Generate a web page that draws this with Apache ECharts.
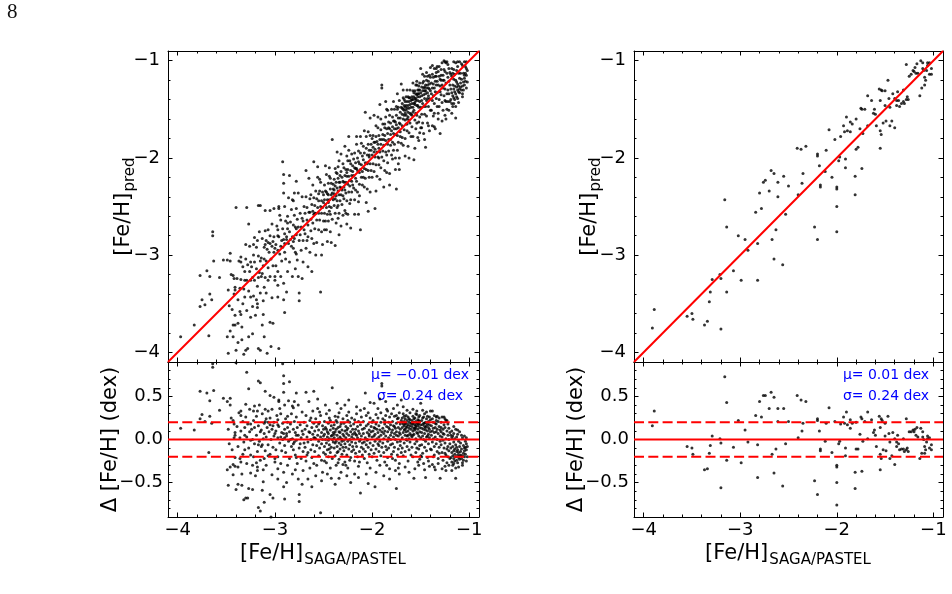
<!DOCTYPE html>
<html>
<head>
<meta charset="utf-8">
<script src="https://cdn.jsdelivr.net/npm/echarts@6/dist/echarts.min.js"></script>
<style>
html,body{margin:0;padding:0;background:#fff;}
#c{width:952px;height:594px;}
</style>
</head>
<body>
<div id="c"></div>
<script>
// ---------------- data ----------------
const xRange = [-4.1, -0.9];
const predRange = [-4.1, -0.9];
const deltaRange = [-0.9, 0.9];
const xTicks = [-4, -3, -2, -1];
const predTicks = [-4, -3, -2, -1];
const deltaTicks = [-0.5, 0, 0.5];
const bandLevels = [-0.2, 0.2];
const statsLeft = ['μ= −0.01 dex', 'σ= 0.24 dex'];
const statsRight = ['μ= 0.01 dex', 'σ= 0.24 dex'];
const xTitleMain = '[Fe/H]', xTitleSub = 'SAGA/PASTEL';
const yTitleMain = '[Fe/H]', yTitleSub = 'pred';
const dTitle = 'Δ [Fe/H] (dex)';
const pageNumber = '8';

// left panel: [Fe/H]_SAGA/PASTEL, Δ = pred − true
const leftSparse = [
[-2.80,0.44],[-2.81,0.37],[-3.40,0.89],[-3.29,0.78],[-3.17,0.68],[-3.15,0.66],[-3.10,0.56],[-3.05,0.51],[-2.96,0.44],[-2.90,0.40],
[-2.87,0.27],[-3.27,0.59],[-3.03,0.35],[-2.94,0.30],[-2.87,0.20],[-2.78,0.05],[-3.64,0.88],[-3.64,0.84],[-3.10,0.35],[-2.97,0.23],
[-2.97,0.17],[-2.91,0.07],[-2.88,0.07],[-2.84,0.00],[-2.81,-0.05],[-3.21,0.39],[-3.18,0.33],[-3.09,0.24],[-3.05,0.17],[-3.02,0.16],
[-3.46,0.48],[-3.30,0.41],[-3.22,0.33],[-3.10,0.21],[-3.07,0.20],[-3.00,0.07],[-2.94,0.03],[-2.90,0.02],[-2.78,-0.21],[-3.63,0.57],
[-3.53,0.48],[-3.46,0.40],[-3.35,0.33],[-3.35,0.28],[-3.25,0.18],[-3.15,0.09],[-2.79,-0.35],[-3.77,0.56],[-3.70,0.54],[-3.67,0.45],
[-3.57,0.34],[-3.43,0.22],[-3.31,0.05],[-3.25,-0.01],[-3.17,-0.06],[-3.13,-0.06],[-3.07,-0.19],[-3.00,-0.22],[-2.97,-0.34],[-2.91,-0.38],
[-3.11,-0.22],[-3.41,0.08],[-3.41,0.05],[-2.88,-0.50],[-2.97,-0.46],[-3.75,0.29],[-3.77,0.24],[-3.72,0.21],[-3.67,0.27],[-3.65,0.19],
[-3.22,-0.20],[-3.19,-0.27],[-3.18,-0.32],[-3.18,-0.36],[-3.33,-0.17],[-3.35,-0.26],[-3.25,-0.39],[-3.12,-0.49],[-2.90,-0.69],[-3.83,0.11],
[-3.97,0.13],[-3.68,-0.15],[-3.43,-0.29],[-3.41,-0.31],[-3.38,-0.32],[-3.46,-0.32],[-3.13,-0.59],[-3.05,-0.64],[-3.02,-0.68],[-3.27,-0.57],
[-3.34,-0.53],[-3.38,-0.52],[-3.23,-0.58],[-3.11,-0.73],[-3.43,-0.41],[-3.48,-0.53],[-3.40,-0.58],[-3.30,-0.68],[-3.28,-0.68],[-3.32,-0.70],
[-3.17,-0.79],[-3.15,-0.83],[-3.08,-0.93],[-3.04,-0.90],[-2.96,-1.00],[-2.92,0.88],[-2.91,0.74],[-2.85,0.67],[-2.91,0.65],[-2.91,0.55],
[-2.82,0.39],[-3.01,0.49],[-2.96,0.46],[-3.49,0.44],[-2.60,0.56]
];
const leftBandLow = [
[-3.48,0.12],[-3.47,-0.05],[-3.45,0.25],[-3.44,-0.12],[-3.42,0.02],[-3.42,0.18],[-3.41,-0.21],[-3.49,-0.35],
[-3.39,0.15],[-3.38,-0.08],[-3.37,0.31],[-3.36,0.02],[-3.36,-0.22],[-3.35,0.10],[-3.34,-0.40],[-3.33,0.21],[-3.32,-0.03],[-3.31,0.14],[-3.31,-0.12],[-3.30,0.26],
[-3.29,0.03],[-3.29,-0.28],[-3.28,0.18],[-3.27,-0.10],[-3.26,0.09],[-3.26,0.35],[-3.25,-0.18],[-3.24,0.12],[-3.23,0.00],[-3.23,-0.30],[-3.22,0.22],[-3.21,-0.05],[-3.21,0.14],[-3.20,-0.42],
[-3.19,0.05],[-3.19,0.27],[-3.18,-0.14],[-3.17,0.16],[-3.16,-0.02],[-3.16,0.40],[-3.15,-0.24],[-3.14,0.11],[-3.14,-0.08],[-3.13,0.30],[-3.12,0.01],[-3.12,-0.35],[-3.11,0.19],[-3.11,0.07],[-3.10,-0.13],
[-3.09,0.03],[-3.09,-0.30],[-3.08,0.14],[-3.07,0.33],[-3.07,-0.06],[-3.06,0.09],[-3.05,-0.17],[-3.05,0.25],[-3.04,0.00],[-3.03,-0.41],[-3.03,0.12],[-3.02,-0.09],[-3.01,0.20],[-3.01,0.04],[-3.00,-0.26],
[-2.99,0.10],[-2.99,-0.12],[-2.98,0.28],[-2.97,0.02],[-2.97,-0.20],[-2.96,0.15],[-2.95,-0.04],[-2.95,0.36],[-2.94,-0.28],[-2.93,0.08],[-2.93,-0.13],[-2.92,0.19],[-2.92,0.00],[-2.91,-0.55],[-2.90,0.12],[-2.90,-0.07],
[-2.89,0.24],[-2.89,-0.15],[-2.88,0.04],[-2.87,-0.30],[-2.87,0.14],[-2.86,0.45],[-2.86,-0.02],[-2.85,0.09],[-2.85,-0.22],[-2.84,0.18],[-2.83,-0.08],[-2.83,0.30],[-2.82,0.01],[-2.82,-0.40],[-2.81,0.12],[-2.81,-0.12],[-2.80,0.21],[-2.80,-0.03],
[-2.79,0.08],[-2.79,-0.18],[-2.78,0.26],[-2.78,-0.01],[-2.77,0.14],[-2.77,-0.28],[-2.76,0.05],[-2.76,0.40],[-2.75,-0.10],[-2.75,-0.64],[-2.75,-0.72],[-2.74,0.17],[-2.74,-0.05],[-2.73,0.02],[-2.73,-0.22],[-2.72,0.32],[-2.72,0.10],[-2.71,-0.14],[-2.71,-0.36],[-2.71,0.06],[-2.70,0.20],[-2.70,-0.04],[-2.76,-0.46],[-2.78,0.54],[-2.72,-0.52],
[-2.69,0.12],[-2.69,-0.09],[-2.68,0.28],[-2.68,-0.25],[-2.67,0.03],[-2.67,0.16],[-2.66,-0.15],[-2.66,-0.03],[-2.65,0.44],[-2.65,0.09],[-2.64,-0.33],[-2.64,0.22],[-2.63,0.00],[-2.63,-0.12],[-2.62,0.14],[-2.62,-0.21],[-2.61,0.06],[-2.61,0.33],[-2.61,-0.06],[-2.60,0.19],[-2.60,-0.28],[-2.60,0.02],[-2.68,0.55],[-2.66,-0.46],[-2.63,0.25],[-2.62,-0.55],[-2.64,0.08],[-2.67,-0.18],
[-2.59,0.10],[-2.59,-0.14],[-2.58,0.24],[-2.58,0.01],[-2.57,-0.07],[-2.57,0.15],[-2.57,-0.30],[-2.56,0.05],[-2.56,0.36],[-2.55,-0.19],[-2.55,0.11],[-2.55,-0.02],[-2.54,0.20],[-2.54,-0.10],[-2.53,0.03],[-2.53,-0.85],[-2.53,0.28],[-2.52,-0.24],[-2.52,0.08],[-2.52,-0.05],[-2.51,0.16],[-2.51,-0.38],[-2.51,0.00],[-2.50,0.12],[-2.50,-0.15],[-2.50,0.04],[-2.58,-0.42],[-2.56,0.47],[-2.54,0.32],[-2.52,-0.48],[-2.59,0.02],[-2.55,0.18]
];
const leftBandMid = [
[-2.49,0.06],[-2.49,-0.08],[-2.49,0.21],[-2.48,-0.17],[-2.48,0.00],[-2.48,0.14],[-2.47,0.30],[-2.47,-0.04],[-2.47,-0.27],[-2.46,0.09],[-2.46,-0.12],[-2.46,0.03],[-2.45,0.19],[-2.45,-0.20],[-2.45,0.07],[-2.44,-0.06],[-2.44,0.25],[-2.44,0.01],[-2.43,-0.15],[-2.43,0.11],[-2.43,-0.33],[-2.42,0.04],[-2.42,0.16],[-2.42,-0.09],[-2.41,0.00],[-2.41,0.60],[-2.41,-0.22],[-2.40,0.13],[-2.40,-0.03],[-2.40,0.08],[-2.48,0.40],[-2.46,-0.40],[-2.44,0.34],[-2.42,-0.45],[-2.47,0.12],[-2.45,-0.01],[-2.43,0.22],[-2.41,0.05],[-2.49,-0.25],[-2.44,-0.11],
[-2.39,0.02],[-2.39,0.17],[-2.39,-0.10],[-2.38,0.09],[-2.38,-0.19],[-2.38,0.27],[-2.37,-0.02],[-2.37,0.12],[-2.37,-0.30],[-2.36,0.05],[-2.36,-0.08],[-2.36,0.20],[-2.35,-0.14],[-2.35,0.01],[-2.35,0.14],[-2.34,-0.04],[-2.34,0.31],[-2.34,-0.23],[-2.33,0.08],[-2.33,-0.11],[-2.33,0.03],[-2.32,0.18],[-2.32,-0.06],[-2.32,-0.38],[-2.31,0.11],[-2.31,0.00],[-2.31,-0.17],[-2.30,0.06],[-2.30,0.24],[-2.30,-0.09],[-2.38,-0.52],[-2.36,0.42],[-2.34,-0.45],[-2.32,0.36],[-2.39,0.06],[-2.37,0.22],[-2.35,-0.27],[-2.33,0.15],[-2.31,-0.02],[-2.36,-0.15],[-2.34,0.09],[-2.38,-0.04],[-2.32,0.01],[-2.30,-0.29],[-2.35,0.26],
[-2.29,0.04],[-2.29,-0.13],[-2.29,0.19],[-2.28,-0.05],[-2.28,0.10],[-2.28,-0.26],[-2.27,0.02],[-2.27,0.15],[-2.27,-0.09],[-2.26,0.28],[-2.26,-0.18],[-2.26,0.07],[-2.25,-0.02],[-2.25,0.13],[-2.25,-0.33],[-2.24,0.32],[-2.24,0.05],[-2.24,-0.11],[-2.23,0.20],[-2.23,-0.06],[-2.23,0.00],[-2.22,0.09],[-2.22,-0.21],[-2.22,0.16],[-2.21,-0.03],[-2.21,0.25],[-2.21,-0.14],[-2.20,0.06],[-2.20,-0.08],[-2.20,0.12],[-2.28,0.40],[-2.26,-0.42],[-2.24,0.46],[-2.22,-0.50],[-2.27,-0.30],[-2.25,0.22],[-2.23,-0.24],[-2.21,0.03],[-2.29,-0.01],[-2.26,0.11],
[-2.19,0.01],[-2.19,0.18],[-2.19,-0.12],[-2.18,0.08],[-2.18,-0.25],[-2.18,0.23],[-2.17,-0.04],[-2.17,0.12],[-2.17,-0.16],[-2.16,0.05],[-2.16,0.30],[-2.16,-0.08],[-2.15,0.15],[-2.15,-0.20],[-2.15,0.02],[-2.14,-0.31],[-2.14,0.10],[-2.14,0.21],[-2.13,-0.02],[-2.13,0.07],[-2.13,-0.14],[-2.12,0.17],[-2.12,-0.62],[-2.12,0.00],[-2.11,-0.09],[-2.11,0.26],[-2.11,0.04],[-2.10,-0.18],[-2.10,0.12],[-2.10,-0.04],[-2.18,-0.40],[-2.16,0.38],[-2.14,-0.44],[-2.12,0.34],[-2.17,0.06],[-2.13,-0.26],
[-2.09,0.07],[-2.09,-0.11],[-2.09,0.21],[-2.08,-0.03],[-2.08,0.13],[-2.08,-0.22],[-2.07,0.54],[-2.07,0.02],[-2.07,-0.14],[-2.06,0.16],[-2.06,-0.06],[-2.06,0.28],[-2.05,-0.27],[-2.05,0.08],[-2.05,0.00],[-2.04,-0.51],[-2.04,0.18],[-2.04,-0.09],[-2.03,0.11],[-2.03,-0.17],[-2.03,0.04],[-2.02,0.25],[-2.02,-0.04],[-2.02,-0.33],[-2.01,0.09],[-2.01,0.15],[-2.01,-0.12],[-2.00,0.03],[-2.00,-0.20],[-2.00,0.20],[-2.08,0.36],[-2.06,-0.40],[-2.04,0.31],[-2.02,0.43],[-2.05,-0.01],[-2.03,0.06],
[-1.99,0.10],[-1.99,-0.07],[-1.99,0.22],[-1.98,-0.16],[-1.98,0.04],[-1.98,0.14],[-1.97,-0.55],[-1.97,0.06],[-1.97,-0.02],[-1.96,0.18],[-1.96,-0.11],[-1.96,0.29],[-1.95,0.01],[-1.95,-0.24],[-1.95,0.12],[-1.94,0.08],[-1.94,-0.05],[-1.94,0.36],[-1.93,-0.14],[-1.93,0.16],[-1.93,0.03],[-1.92,-0.30],[-1.92,0.11],[-1.92,-0.02],[-1.91,0.20],[-1.91,0.05],[-1.91,-0.19],[-1.90,0.65],[-1.90,0.62],[-1.90,0.09],[-1.90,-0.09],[-1.98,0.42],[-1.96,-0.38],[-1.94,0.25],[-1.92,0.47],[-1.97,0.13],[-1.93,-0.07],[-1.91,0.31],
[-1.89,0.13],[-1.89,-0.04],[-1.89,0.24],[-1.88,-0.15],[-1.88,0.07],[-1.88,0.01],[-1.87,0.18],[-1.87,-0.26],[-1.87,0.10],[-1.86,-0.08],[-1.86,0.28],[-1.86,0.04],[-1.85,-0.12],[-1.85,0.15],[-1.85,0.35],[-1.84,-0.02],[-1.84,0.09],[-1.84,-0.21],[-1.83,0.20],[-1.83,0.02],[-1.83,-0.10],[-1.82,0.12],[-1.82,-0.34],[-1.82,0.26],[-1.81,0.05],[-1.81,-0.06],[-1.81,0.17],[-1.80,-0.17],[-1.80,0.08],[-1.80,0.30],[-1.88,-0.42],[-1.86,0.44],[-1.84,0.33],[-1.82,-0.46],[-1.87,0.22],[-1.83,0.14],[-1.85,-0.30],[-1.81,0.00],
[-1.79,0.11],[-1.79,-0.05],[-1.79,0.21],[-1.78,0.03],[-1.78,-0.14],[-1.78,0.16],[-1.77,0.27],[-1.77,-0.09],[-1.77,0.07],[-1.76,-0.24],[-1.76,0.13],[-1.76,0.00],[-1.75,0.19],[-1.75,-0.57],[-1.75,0.09],[-1.74,-0.03],[-1.74,0.24],[-1.74,-0.18],[-1.73,0.14],[-1.73,0.04],[-1.73,-0.11],[-1.72,0.31],[-1.72,0.08],[-1.72,-0.28],[-1.71,0.18],[-1.71,-0.02],[-1.71,0.12],[-1.70,-0.15],[-1.70,0.22],[-1.70,0.46],[-1.78,0.36],[-1.76,-0.36],[-1.74,0.40],[-1.72,-0.40],[-1.77,0.15],[-1.75,0.05],[-1.73,0.25],[-1.71,-0.07],[-1.79,-0.22],[-1.75,0.28],[-1.73,-0.33],[-1.71,0.06]
];
const leftBandHigh = [
[-1.69,0.14],[-1.69,0.02],[-1.69,0.25],[-1.69,-0.10],[-1.68,0.18],[-1.68,0.08],[-1.68,-0.19],[-1.68,0.30],[-1.67,0.11],[-1.67,0.21],[-1.67,-0.04],[-1.67,0.16],[-1.66,0.05],[-1.66,0.24],[-1.66,-0.14],[-1.66,0.12],[-1.65,0.19],[-1.65,0.00],[-1.65,0.28],[-1.65,0.09],[-1.64,-0.08],[-1.64,0.15],[-1.64,0.22],[-1.64,0.04],[-1.63,0.17],[-1.63,-0.25],[-1.63,0.10],[-1.63,0.26],[-1.62,0.13],[-1.62,0.01],[-1.62,0.20],[-1.62,-0.12],[-1.61,0.16],[-1.61,0.07],[-1.61,0.23],[-1.61,-0.03],[-1.60,0.12],[-1.60,0.19],[-1.60,-0.18],[-1.60,0.05],[-1.68,0.38],[-1.66,-0.32],[-1.64,0.34],[-1.62,-0.38],[-1.67,0.27],[-1.65,0.14],[-1.63,0.05],[-1.61,0.31],[-1.69,0.20],[-1.66,0.18],[-1.64,-0.01],[-1.62,0.24],
[-1.59,0.15],[-1.59,0.03],[-1.59,0.22],[-1.59,-0.09],[-1.58,0.18],[-1.58,0.10],[-1.58,-0.20],[-1.58,0.27],[-1.57,0.13],[-1.57,0.20],[-1.57,-0.45],[-1.57,0.06],[-1.56,0.17],[-1.56,0.25],[-1.56,-0.05],[-1.56,0.11],[-1.55,0.21],[-1.55,0.01],[-1.55,0.14],[-1.55,-0.15],[-1.54,0.19],[-1.54,0.08],[-1.54,0.29],[-1.54,-0.02],[-1.53,0.16],[-1.53,0.23],[-1.53,-0.26],[-1.53,0.12],[-1.52,0.04],[-1.52,0.18],[-1.52,-0.11],[-1.52,0.26],[-1.51,0.14],[-1.51,0.09],[-1.51,0.21],[-1.51,-0.07],[-1.50,0.17],[-1.50,0.02],[-1.50,0.42],[-1.50,-0.19],[-1.58,0.35],[-1.56,-0.34],[-1.54,0.33],[-1.52,-0.30],[-1.57,0.24],[-1.55,0.16],[-1.53,0.07],[-1.51,0.28],[-1.59,0.19],[-1.56,0.13],[-1.54,-0.10],[-1.52,0.22],[-1.58,0.05],[-1.55,0.30],[-1.53,0.19],[-1.51,-0.23],
[-1.49,0.13],[-1.49,0.22],[-1.49,-0.06],[-1.49,0.08],[-1.48,0.17],[-1.48,-0.16],[-1.48,0.25],[-1.48,0.04],[-1.47,0.12],[-1.47,0.19],[-1.47,-0.28],[-1.47,0.00],[-1.46,0.15],[-1.46,0.30],[-1.46,-0.09],[-1.46,0.07],[-1.45,0.20],[-1.45,-0.02],[-1.45,0.11],[-1.45,-0.44],[-1.44,0.16],[-1.44,0.24],[-1.44,-0.13],[-1.44,0.03],[-1.43,0.10],[-1.43,0.18],[-1.43,-0.21],[-1.43,0.27],[-1.42,0.06],[-1.42,0.14],[-1.42,-0.05],[-1.42,0.21],[-1.41,0.12],[-1.41,-0.31],[-1.41,0.02],[-1.41,0.17],[-1.40,0.09],[-1.40,-0.11],[-1.40,0.23],[-1.40,0.33],[-1.48,0.34],[-1.46,-0.35],[-1.44,0.32],[-1.42,-0.25],[-1.47,0.26],[-1.45,0.14],[-1.43,0.04],[-1.41,0.26],[-1.49,-0.20],[-1.46,0.19],
[-1.39,0.05],[-1.39,0.16],[-1.39,-0.12],[-1.38,0.10],[-1.38,0.24],[-1.38,-0.03],[-1.38,-0.29],[-1.37,0.13],[-1.37,0.01],[-1.37,0.20],[-1.36,-0.08],[-1.36,0.08],[-1.36,0.28],[-1.36,-0.18],[-1.35,0.14],[-1.35,0.03],[-1.35,-0.35],[-1.34,0.18],[-1.34,-0.05],[-1.34,0.09],[-1.34,0.26],[-1.33,-0.14],[-1.33,0.12],[-1.33,0.00],[-1.32,0.21],[-1.32,-0.22],[-1.32,0.07],[-1.31,0.15],[-1.31,-0.09],[-1.31,0.25],[-1.30,0.04],[-1.30,-0.45],[-1.30,0.11],[-1.30,-0.02],[-1.38,0.33],[-1.36,-0.32],[-1.34,0.22],[-1.32,-0.28],[-1.37,-0.20],[-1.35,0.19],[-1.33,0.27],[-1.31,-0.16],
[-1.29,0.09],[-1.29,-0.06],[-1.29,0.20],[-1.28,-0.15],[-1.28,0.03],[-1.28,0.26],[-1.27,-0.24],[-1.27,0.12],[-1.27,-0.01],[-1.26,0.17],[-1.26,-0.10],[-1.26,0.06],[-1.25,-0.31],[-1.25,0.14],[-1.25,-0.04],[-1.24,0.22],[-1.24,-0.18],[-1.24,0.01],[-1.23,0.10],[-1.23,-0.27],[-1.23,0.22],[-1.22,-0.08],[-1.22,0.05],[-1.22,-0.20],[-1.21,0.13],[-1.21,-0.13],[-1.21,0.00],[-1.20,-0.22],[-1.20,0.08],[-1.20,-0.05],[-1.28,-0.34],[-1.26,0.26],[-1.24,-0.36],[-1.22,0.18],[-1.27,0.07],[-1.25,0.24],[-1.23,-0.11],[-1.21,-0.30],[-1.29,0.14],[-1.25,-0.16],
[-1.19,-0.10],[-1.19,0.05],[-1.19,-0.21],[-1.18,-0.15],[-1.18,0.02],[-1.18,-0.26],[-1.18,0.10],[-1.17,-0.08],[-1.17,-0.19],[-1.17,0.04],[-1.17,-0.30],[-1.16,-0.13],[-1.16,0.07],[-1.16,-0.22],[-1.16,-0.03],[-1.15,-0.17],[-1.15,-0.25],[-1.15,0.01],[-1.15,-0.11],[-1.14,-0.20],[-1.14,-0.06],[-1.14,0.12],[-1.14,-0.45],[-1.13,-0.14],[-1.13,-0.24],[-1.13,0.03],[-1.13,-0.09],[-1.12,-0.18],[-1.12,-0.27],[-1.12,0.06],[-1.12,-0.12],[-1.11,-0.21],[-1.11,-0.02],[-1.11,-0.15],[-1.11,-0.32],[-1.10,-0.08],[-1.10,-0.19],[-1.10,0.09],[-1.10,-0.23],[-1.18,-0.36],[-1.16,0.15],[-1.14,-0.33],[-1.12,0.11],[-1.16,-0.28],
[-1.09,-0.14],[-1.09,-0.04],[-1.08,-0.22],[-1.08,0.05],[-1.08,-0.11],[-1.07,-0.19],[-1.07,-0.27],[-1.07,0.02],[-1.06,-0.16],[-1.06,-0.07],[-1.06,-0.24],[-1.05,0.04],[-1.05,-0.13],[-1.05,-0.20],[-1.04,-0.02],[-1.04,-0.09],[-1.04,-0.17],[-1.03,-0.25],[-1.03,-0.05],[-1.03,0.02],[-1.03,-0.12],[-1.02,-0.20],[-1.02,-0.08],[-1.07,-0.30],[-1.09,-0.18],[-1.05,-0.10]
];
// right panel
const rightSample = [
[-3.91,0.16],[-3.89,0.33],[-3.55,-0.08],[-3.50,-0.10],[-3.49,-0.17],[-3.37,-0.35],[-3.34,-0.34],[-3.32,-0.16],[-3.31,-0.07],[-3.29,0.04],
[-3.21,0.01],[-3.20,-0.04],[-3.20,-0.56],[-3.16,0.73],[-3.14,0.43],[-3.14,-0.24],[-3.07,-0.09],[-3.02,0.22],[-2.99,-0.27],[-2.95,0.11],
[-2.92,-0.03],[-2.84,0.28],[-2.82,-0.06],[-2.82,-0.44],[-2.80,0.44],[-2.78,0.26],[-2.76,0.51],[-2.74,0.51],[-2.70,0.36],[-2.68,0.55],
[-2.67,-0.17],[-2.65,-0.39],[-2.65,0.49],[-2.63,-0.11],[-2.61,0.36],[-2.61,0.21],[-2.56,-0.54],[-2.55,0.36],[-2.53,-0.05],[-2.50,0.21],
[-2.41,0.51],[-2.40,0.02],[-2.37,0.46],[-2.36,0.10],[-2.35,0.19],[-2.32,0.44],[-2.23,-0.48],[-2.20,-0.64],[-2.20,0.24],[-2.20,0.22],
[-2.18,0.10],[-2.17,-0.11],[-2.17,-0.13],[-2.12,-0.02],[-2.11,0.19],[-2.08,0.37],[-2.05,-0.15],[-2.02,0.21],[-2.00,-0.30],[-2.00,-0.32],
[-2.00,-0.50],[-2.00,-0.76],[-1.98,-0.05],[-1.97,-0.02],[-1.96,0.18],[-1.93,0.26],[-1.92,0.19],[-1.90,0.32],[-1.89,0.17],[-1.91,-0.10],
[-1.91,-0.19],[-1.86,0.23],[-1.86,0.13],[-1.84,0.19],[-1.81,-0.38],[-1.81,-0.57],[-1.80,-0.11],[-1.78,-0.11],[-1.76,0.06],[-1.74,-0.37],
[-1.74,0.24],[-1.73,-0.02],[-1.71,0.21],[-1.68,0.32],[-1.68,0.01],[-1.64,0.23],[-1.62,0.08],[-1.61,0.11],[-1.60,0.05],[-1.59,-0.08],
[-1.56,0.27],[-1.54,0.24],[-1.55,-0.17],[-1.55,-0.35],[-1.55,0.14],[-1.54,-0.22],[-1.52,-0.12],[-1.50,0.19],[-1.50,0.04],[-1.49,-0.13],
[-1.47,0.27],[-1.46,0.07],[-1.45,-0.03],[-1.45,-0.22],[-1.43,-0.19],[-1.40,-0.29],[-1.40,0.01],[-1.38,-0.03],[-1.38,-0.08],[-1.37,0.05],
[-1.35,-0.12],[-1.31,-0.11],[-1.30,-0.14],[-1.28,-0.12],[-1.28,0.24],[-1.25,0.09],[-1.23,0.09],[-1.21,0.11],[-1.19,0.12],[-1.18,0.05],
[-1.17,0.14],[-1.16,0.03],[-1.14,-0.22],[-1.13,0.13],[-1.12,-0.16],[-1.11,0.03],[-1.10,0.00],[-1.09,-0.08],[-1.07,-0.03],[-1.06,0.01],
[-1.04,-0.10],[-1.02,-0.06],[-1.53,0.22],[-1.75,0.26],[-1.80,0.20],[-1.11,0.09],[-1.08,-0.12],[-1.06,0.04],[-1.04,0.02],[-1.02,-0.12],
[-1.20,0.09],[-1.09,-0.16],[-1.42,0.08],[-1.33,-0.11],[-1.31,0.01],[-1.27,-0.10],[-1.26,-0.14],[-1.36,-0.05]
];
const leftSample = leftSparse.concat(leftBandLow, leftBandMid, leftBandHigh);

// ---------------- layout ----------------
const FONT = 'DejaVu Sans';
const panels = [
  {left:168, top:51, width:311, hTop:311, hBot:155, sample:leftSample, stats:statsLeft, yTitleX:131, dTitleX:111},
  {left:634, top:51, width:309, hTop:311, hBot:155, sample:rightSample, stats:statsRight, yTitleX:597, dTitleX:577}
];

function stepValues(range, step) {
  const out = [];
  const n0 = Math.ceil(range[0] / step - 1e-9), n1 = Math.floor(range[1] / step + 1e-9);
  for (let n = n0; n <= n1; n++) out.push(+(n * step).toFixed(4));
  return out;
}
const minus = s => s.replace('-', '\u2212');
const fmtInt = v => minus(Number(v).toFixed(0));
const fmtOne = v => minus((Math.abs(v) < 1e-9 ? 0 : Number(v)).toFixed(1));

const grids = [], xAxes = [], yAxes = [], series = [], graphics = [];

function addAxisGroup(list, gridIndex, positions, range, majors, minors, labelFmt, margin) {
  let mainIndex = -1;
  positions.forEach((pos, k) => {
    const base = {type:'value', gridIndex, min:range[0], max:range[1], position:pos, offset:0,
      splitLine:{show:false}, splitArea:{show:false}};
    const showLab = (k === 0) && labelFmt != null;
    const major = Object.assign({}, base, {
      axisLine:{show:true, onZero:false, lineStyle:{color:'#000', width:1}},
      axisTick:{show:true, inside:true, length:4.5, customValues:majors, lineStyle:{color:'#000', width:1}},
      axisLabel:{show:showLab, customValues:majors, formatter:labelFmt || (v => ''), color:'#000',
        fontSize:18, fontFamily:FONT, margin:margin}
    });
    if (k === 0) mainIndex = list.length;
    list.push(major);
    list.push(Object.assign({}, base, {
      axisLine:{show:false, onZero:false},
      axisTick:{show:true, inside:true, length:2.5, customValues:minors, lineStyle:{color:'#000', width:1}},
      axisLabel:{show:false}
    }));
  });
  return mainIndex;
}

const xMinor = stepValues(xRange, 0.2);
const predMinor = stepValues(predRange, 0.2);
const deltaMinor = stepValues(deltaRange, 0.1);

panels.forEach((p) => {
  const gTop = grids.length;
  grids.push({left:p.left, top:p.top, width:p.width, height:p.hTop, show:false});
  const gBot = grids.length;
  grids.push({left:p.left, top:p.top + p.hTop, width:p.width, height:p.hBot, show:false});

  const xT = addAxisGroup(xAxes, gTop, ['bottom','top'], xRange, xTicks, xMinor, null, 4);
  const yT = addAxisGroup(yAxes, gTop, ['left','right'], predRange, predTicks, predMinor, fmtInt, 8);
  const xB = addAxisGroup(xAxes, gBot, ['bottom','top'], xRange, xTicks, xMinor, fmtInt, 4);
  const yB = addAxisGroup(yAxes, gBot, ['left','right'], deltaRange, deltaTicks, deltaMinor, fmtOne, 5);

  series.push({
    type:'scatter', xAxisIndex:xT, yAxisIndex:yT, clip:true, silent:true, z:2,
    symbol:'circle', symbolSize:3, itemStyle:{color:'#000'},
    data:p.sample.map(([x, d]) => [x, +(x + d).toFixed(3)])
  });
  series.push({
    type:'line', xAxisIndex:xT, yAxisIndex:yT, clip:true, silent:true, z:3, symbol:'none',
    lineStyle:{color:'#ff0000', width:2},
    data:[[xRange[0], xRange[0]], [xRange[1], xRange[1]]]
  });
  series.push({
    type:'scatter', xAxisIndex:xB, yAxisIndex:yB, clip:true, silent:true, z:2,
    symbol:'circle', symbolSize:3, itemStyle:{color:'#000'},
    data:p.sample.map(([x, d]) => [x, d])
  });
  series.push({
    type:'line', xAxisIndex:xB, yAxisIndex:yB, clip:true, silent:true, z:3, symbol:'none',
    lineStyle:{color:'#ff0000', width:2},
    data:[[xRange[0], 0], [xRange[1], 0]]
  });
  bandLevels.forEach(lv => series.push({
    type:'line', xAxisIndex:xB, yAxisIndex:yB, clip:true, silent:true, z:3, symbol:'none',
    lineStyle:{color:'#ff0000', width:2, type:[10, 4.3]},
    data:[[xRange[0], lv], [xRange[1], lv]]
  }));

  // axis titles
  const cx = p.left + p.width / 2;
  const mainW = 64.2, subW = 102.6;
  const x0 = cx - (mainW + subW) / 2;
  graphics.push({type:'text', x:x0, y:553.5, silent:true,
    style:{text:xTitleMain, fontSize:21, fontFamily:FONT, fill:'#000', align:'left', verticalAlign:'middle'}});
  graphics.push({type:'text', x:x0 + mainW, y:560, silent:true,
    style:{text:xTitleSub, fontSize:15, fontFamily:FONT, fill:'#000', align:'left', verticalAlign:'middle'}});

  const cyTop = p.top + p.hTop / 2;
  const predW = 64.2 + 34.4;
  graphics.push({type:'group', x:p.yTitleX, y:cyTop, rotation:Math.PI / 2, silent:true, children:[
    {type:'text', x:-predW / 2, y:-7.7, style:{text:yTitleMain, fontSize:21, fontFamily:FONT, fill:'#000', align:'left', verticalAlign:'middle'}},
    {type:'text', x:-predW / 2 + 64.2, y:-1, style:{text:yTitleSub, fontSize:15, fontFamily:FONT, fill:'#000', align:'left', verticalAlign:'middle'}}
  ]});
  const cyBot = p.top + p.hTop + p.hBot / 2;
  graphics.push({type:'text', x:p.dTitleX, y:cyBot, rotation:Math.PI / 2, silent:true,
    style:{text:dTitle, fontSize:21, fontFamily:FONT, fill:'#000', align:'center', verticalAlign:'middle'}});

  // statistics text
  p.stats.forEach((t, k) => graphics.push({type:'text', x:p.left + 252, y:[375.5, 396][k], silent:true,
    style:{text:t, fontSize:14, fontFamily:FONT, fill:'#0000ff', align:'center', verticalAlign:'middle'}}));
});

graphics.push({type:'text', x:7, y:12.5, silent:true,
  style:{text:pageNumber, fontSize:21, fontFamily:'Liberation Serif', fill:'#111', align:'left', verticalAlign:'middle'}});

const chart = echarts.init(document.getElementById('c'), null, {renderer:'canvas', width:952, height:594});
chart.setOption({
  backgroundColor:'#ffffff',
  animation:false,
  grid:grids.map(g => Object.assign({outerBoundsMode:'none', containLabel:false}, g)),
  xAxis:xAxes,
  yAxis:yAxes,
  series:series,
  graphic:{elements:graphics}
});
</script>
</body>
</html>
